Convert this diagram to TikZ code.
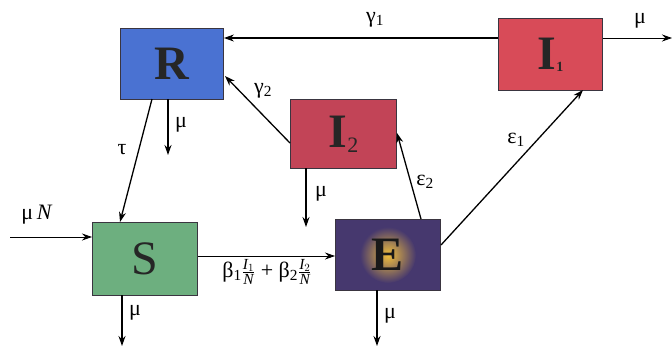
\documentclass[tikz,border=0pt]{standalone}
\usepackage{fontspec}
\setmainfont{Liberation Serif}
\usetikzlibrary{arrows.meta}
\definecolor{rblue}{HTML}{4A72D2}
\definecolor{ired}{HTML}{D84B58}
\definecolor{itwo}{HTML}{C24457}
\definecolor{sgreen}{HTML}{6DAF7F}
\definecolor{epurple}{HTML}{46386E}
\definecolor{eglow}{HTML}{F0BE3C}
\definecolor{edge}{HTML}{3A3540}
\begin{document}
\begin{tikzpicture}[x=1pt,y=-1pt,
  box/.style={draw=edge,line width=0.9pt,inner sep=0pt},
  letter/.style={font=\fontsize{48}{48}\selectfont,text=black!85},
  bletter/.style={font=\fontsize{48}{48}\selectfont\bfseries,text=black!85},
  lbl/.style={font=\fontsize{22}{22}\selectfont,inner sep=0pt},
  flow/.style={line width=1.3pt,-{Stealth[length=10pt,width=7pt]}},
  thinflow/.style={line width=0.8pt,-{Stealth[length=10pt,width=7pt]}}]
\useasboundingbox (0,0) rectangle (672,346);
% boxes
\node[box,fill=rblue,minimum width=103pt,minimum height=71pt,anchor=north west] (R) at (120,28) {};
\node[bletter] at (R.center) {R};
\node[box,fill=ired,minimum width=104pt,minimum height=72pt,anchor=north west] (I1) at (498,18) {};
\node[bletter] at (I1.center) {I\raisebox{-2pt}{\fontsize{14}{14}\selectfont 1}};
\node[box,fill=itwo,minimum width=106pt,minimum height=69pt,anchor=north west] (I2) at (290,99) {};
\node[bletter] at (I2.center) {I\raisebox{-5pt}{\fontsize{22}{22}\selectfont\mdseries 2}};
\node[box,fill=sgreen,minimum width=105pt,minimum height=73pt,anchor=north west] (S) at (92,222) {};
\node[letter] at (S.center) {S};
\node[box,fill=epurple,minimum width=105pt,minimum height=71pt,anchor=north west] (E) at (335,219) {};
\begin{scope}
\clip (335,219) rectangle (440,290);
\shade[inner color=eglow,outer color=epurple] (E.center) circle (28pt);
\end{scope}
\draw[edge,line width=0.9pt] (335,219) rectangle (440,290);
\node[bletter,text=black!90] at (E.center) {E};
% free-end coordinates
\coordinate (muIo) at (672,38);
\coordinate (muRo) at (168,155);
\coordinate (muI2o) at (306,227);
\coordinate (muNin) at (10,237);
\coordinate (muSo) at (122,346);
\coordinate (muEo) at (377,346);
% connectors
\draw[flow] (I1.west |- 0,38) -- (R.east |- 0,38);
\draw[thinflow] (I1.east |- 0,38) -- (muIo);
\draw[flow] (290,143) -- (225,76);
\draw[flow] (168,99) -- (muRo);
\draw[flow] (152,99) -- (120,222);
\draw[flow] (306,168) -- (muI2o);
\draw[thinflow] (muNin) -- (S.west |- 0,237);
\draw[thinflow] (S.east |- 0,256) -- (E.west |- 0,256);
\draw[flow] (122,295) -- (muSo);
\draw[flow] (421,219) -- (397,133);
\draw[flow] (441,245) -- (583,90);
\draw[flow] (377,290) -- (muEo);
% labels
\node[lbl] at (375,20) {γ\textsubscript{1}};
\node[lbl] at (640,21) {μ};
\node[lbl] at (263,91) {γ\textsubscript{2}};
\node[lbl] at (181,125) {μ};
\node[lbl] at (122,150) {τ};
\node[lbl] at (321,194) {μ};
\node[lbl] at (37,215) {μ\,\textit{N}};
\node[lbl] at (425,182) {ε\textsubscript{2}};
\node[lbl] at (516,140) {ε\textsubscript{1}};
\node[lbl] at (267,272) {β\textsubscript{1}$\frac{\mathit{I}_1}{\mathit{N}}$ + β\textsubscript{2}$\frac{\mathit{I}_2}{\mathit{N}}$};
\node[lbl] at (135,313) {μ};
\node[lbl] at (390,316) {μ};
\end{tikzpicture}
\end{document}
